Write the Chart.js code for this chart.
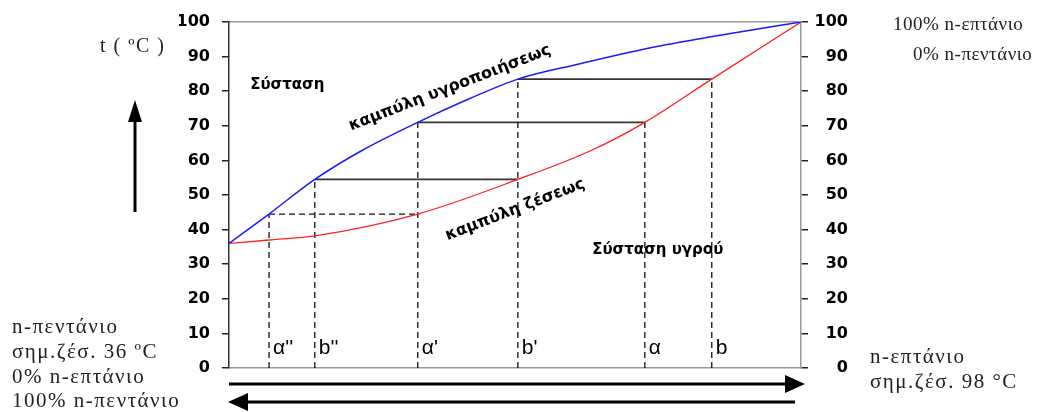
<!DOCTYPE html>
<html>
<head>
    <title>Διάγραμμα ζέσεως n-πεντανίου / n-επτανίου</title>
    <script src="https://cdn.jsdelivr.net/npm/chart.js"></script>
    <style>
        body { margin: 0; background: #fff; }
    </style>
</head>
<body>
    <canvas id="grafico" width="1040" height="412"></canvas>
    <script>
        // κλίμακα θερμοκρασίας (ºC)
        const yTicks = [0, 10, 20, 30, 40, 50, 60, 70, 80, 90, 100];

        // καμπύλη υγροποιήσεως (μπλε) - x: % n-επτάνιο, y: θερμοκρασία
        const vaporX = [0, 7, 15, 23.4, 33, 42, 50.5, 61, 73.5, 84.5, 100];
        const vaporY = [36, 44.5, 54.5, 63, 71, 77.8, 83.5, 87.8, 92.5, 95.8, 100];

        // καμπύλη ζέσεως (κόκκινη)
        const liquidX = [0, 7, 15, 33, 50.5, 63.5, 72.7, 84.4, 100];
        const liquidY = [36, 37, 38.2, 44.5, 54.5, 63, 71, 83.5, 100];

        // σημεία α'', b'', α', b', α, b
        const markNames = ["α''", "b''", "α'", "b'", "α", "b"];
        const markX = [7, 15, 33, 50.5, 72.7, 84.4];
        const markTop = [44.5, 54.5, 71, 83.5, 71, 83.5];

        // οριζόντιες γραμμές (συνεχείς)
        const tieY = [54.5, 71, 83.5];
        const tieFrom = [15, 33, 50.5];
        const tieTo = [50.5, 72.7, 84.4];

        // οριζόντια διακεκομμένη
        const dashY = 44.5;
        const dashFrom = 7;
        const dashTo = 33;

        function pts(xs, ys) {
            return xs.map((x, i) => ({ x: x, y: ys[i] }));
        }

        const datasets = [
            { data: pts(vaporX, vaporY), borderColor: '#1a1aff', borderWidth: 1.5, cubicInterpolationMode: 'monotone' },
            { data: pts(liquidX, liquidY), borderColor: '#ff2020', borderWidth: 1.3, cubicInterpolationMode: 'monotone' }
        ];
        markX.forEach((x, i) => {
            datasets.push({ data: [{ x: x, y: 0 }, { x: x, y: markTop[i] }], borderColor: '#111', borderWidth: 1.3, borderDash: [6, 4] });
        });
        tieY.forEach((y, i) => {
            datasets.push({ data: [{ x: tieFrom[i], y: y }, { x: tieTo[i], y: y }], borderColor: '#333', borderWidth: 1.8 });
        });
        datasets.push({ data: [{ x: dashFrom, y: dashY }, { x: dashTo, y: dashY }], borderColor: '#111', borderWidth: 1.3, borderDash: [6, 4] });

        function arrow(ctx, x1, y1, x2, y2, len, half) {
            const a = Math.atan2(y2 - y1, x2 - x1);
            ctx.beginPath();
            ctx.moveTo(x1, y1);
            ctx.lineTo(x2 - Math.cos(a) * len * 0.8, y2 - Math.sin(a) * len * 0.8);
            ctx.stroke();
            ctx.beginPath();
            ctx.moveTo(x2, y2);
            ctx.lineTo(x2 - Math.cos(a) * len - Math.sin(a) * half, y2 - Math.sin(a) * len + Math.cos(a) * half);
            ctx.lineTo(x2 - Math.cos(a) * len + Math.sin(a) * half, y2 - Math.sin(a) * len - Math.cos(a) * half);
            ctx.closePath();
            ctx.fill();
        }

        const keimena = {
            id: 'keimena',
            afterDraw(chart) {
                const ctx = chart.ctx;
                const xs = chart.scales.x, ys = chart.scales.y;
                const area = chart.chartArea;
                ctx.save();
                ctx.fillStyle = '#000';
                ctx.strokeStyle = '#000';

                // βέλη
                ctx.lineWidth = 3;
                arrow(ctx, 135, 212, 135, 100, 22, 7);
                arrow(ctx, area.left, 384, area.right + 4, 384, 20, 9);
                arrow(ctx, area.right - 6, 402, area.left - 1, 402, 20, 9);

                // ετικέτες σημείων
                ctx.font = '21px "Liberation Sans"';
                ctx.textBaseline = 'middle';
                ctx.textAlign = 'left';
                markNames.forEach((n, i) => {
                    ctx.fillText(n, xs.getPixelForValue(markX[i]) + 4, ys.getPixelForValue(5.8));
                });

                // έντονα κείμενα μέσα στο διάγραμμα
                ctx.font = 'bold 15px "DejaVu Sans"';
                ctx.fillText('Σύσταση', xs.getPixelForValue(3.7), ys.getPixelForValue(81.8));
                ctx.fillText('Σύσταση υγρού', xs.getPixelForValue(63.5), ys.getPixelForValue(34.1));

                ctx.textAlign = 'center';
                ctx.font = 'bold 16px "DejaVu Sans"';
                ctx.save();
                ctx.translate(xs.getPixelForValue(38.6), ys.getPixelForValue(80.9));
                ctx.rotate(-21 * Math.PI / 180);
                ctx.fillText('καμπύλη υγροποιήσεως', 0, 0);
                ctx.restore();
                ctx.save();
                ctx.translate(xs.getPixelForValue(50), ys.getPixelForValue(45.7));
                ctx.rotate(-21 * Math.PI / 180);
                ctx.fillText('καμπύλη ζέσεως', 0, 0);
                ctx.restore();

                // κείμενα έξω από το διάγραμμα
                ctx.textAlign = 'left';
                ctx.fillStyle = '#222';
                ctx.font = '20px "Liberation Serif"';
                ctx.letterSpacing = '1.5px';
                ctx.fillText('t ( ºC )', 100, 47);
                ctx.font = '21px "Liberation Serif"';
                ctx.letterSpacing = '1.5px';
                ctx.fillText('n-πεντάνιο', 12, 327);
                ctx.fillText('σημ.ζέσ. 36 ºC', 12, 352);
                ctx.fillText('0% n-επτάνιο', 12, 377);
                ctx.fillText('100% n-πεντάνιο', 12, 401);
                ctx.fillText('n-επτάνιο', 870, 357);
                ctx.fillText('σημ.ζέσ. 98 °C', 870, 382);
                ctx.font = '19px "Liberation Serif"';
                ctx.letterSpacing = '0.5px';
                ctx.fillText('100% n-επτάνιο', 893, 25);
                ctx.fillText('0% n-πεντάνιο', 913, 55);
                ctx.restore();
            }
        };

        const tickFont = { family: '"DejaVu Sans"', size: 16, weight: 'bold' };

        new Chart(document.getElementById('grafico'), {
            type: 'line',
            data: { datasets: datasets },
            options: {
                responsive: false,
                animation: false,
                events: [],
                layout: { padding: { left: 179, right: 192, top: 22, bottom: 44 } },
                elements: { point: { radius: 0 }, line: { tension: 0 } },
                plugins: { legend: { display: false }, tooltip: { enabled: false } },
                scales: {
                    x: {
                        type: 'linear', position: 'bottom', min: 0, max: 100,
                        ticks: { display: false },
                        grid: { display: false, drawTicks: false },
                        border: { display: true, color: '#999', width: 1.5 },
                        afterFit(s) { s.height = 0; }
                    },
                    x2: {
                        type: 'linear', position: 'top', min: 0, max: 100,
                        ticks: { display: false },
                        grid: { display: false, drawTicks: false },
                        border: { display: true, color: '#999', width: 1.5 },
                        afterFit(s) { s.height = 0; }
                    },
                    y: {
                        type: 'linear', position: 'left', min: 0, max: 100,
                        afterBuildTicks(s) { s.ticks = yTicks.map(v => ({ value: v })); },
                        ticks: { color: '#000', font: tickFont, padding: 12 },
                        grid: { drawOnChartArea: false, drawTicks: true, tickLength: 7, color: '#222', lineWidth: 1.5 },
                        border: { display: true, color: '#333', width: 1.5 },
                        afterFit(s) { s.width = 50; }
                    },
                    y2: {
                        type: 'linear', position: 'right', min: 0, max: 100,
                        afterBuildTicks(s) { s.ticks = yTicks.map(v => ({ value: v })); },
                        ticks: { color: '#000', font: tickFont, padding: 8, crossAlign: 'far' },
                        grid: { drawOnChartArea: false, drawTicks: true, tickLength: 7, color: '#222', lineWidth: 1.5 },
                        border: { display: true, color: '#999', width: 1.5 },
                        afterFit(s) { s.width = 47; }
                    }
                }
            },
            plugins: [keimena]
        });
    </script>
</body>
</html>
